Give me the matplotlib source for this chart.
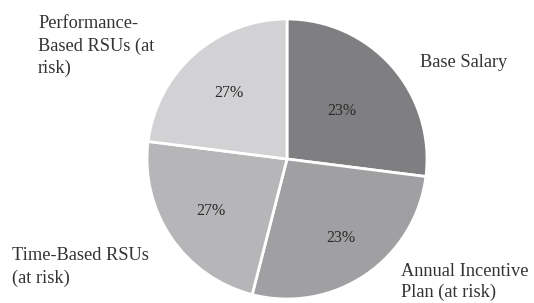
import numpy as np
import matplotlib
matplotlib.use("Agg")
import matplotlib.pyplot as plt

# Datos del gráfico
categorias = ["Base Salary", "Annual Incentive\nPlan (at risk)",
              "Time-Based RSUs\n(at risk)", "Performance-\nBased RSUs (at\nrisk)"]
tamanos = [27, 27, 23, 23]           # tamaño de cada porción
etiquetas_pct = ["23%", "23%", "27%", "27%"]  # texto que aparece en cada porción
colores = ["#7f7f81", "#a0a0a2", "#b6b6b8", "#d2d2d4"]

plt.rcParams['font.family'] = ['Liberation Serif', 'DejaVu Serif']

W, H = 534, 303
fig = plt.figure(figsize=(W / 100, H / 100), dpi=100)
ax = fig.add_axes([0, 0, 1, 1])

R = 140.0   # radio en pixeles
cx, cy = 287.0, 159.0  # centro (pixeles desde arriba)

wedges, _ = ax.pie(tamanos, colors=colores, startangle=90, counterclock=False,
                   radius=1, wedgeprops=dict(edgecolor="white", linewidth=2))

ax.set_xlim(-cx / R, (W - cx) / R)
ax.set_ylim(-(H - cy) / R, cy / R)
ax.set_aspect('auto')
ax.axis('off')

# Porcentajes dentro de cada porción
dist_pct = [0.52, 0.68, 0.66, 0.63]
for w, txt, d in zip(wedges, etiquetas_pct, dist_pct):
    ang = np.deg2rad((w.theta1 + w.theta2) / 2)
    ax.text(d * np.cos(ang), d * np.sin(ang), txt, ha='center', va='center',
            fontsize=11.5, color="#2a2a2a")

# Etiquetas externas (posiciones en pixeles, esquina superior izquierda)
pos_etq = [(420, 54), (401, 263), (12, 247), (38, 15)]
esp_lineas = [1.4, 1.3, 1.4, 1.4]
for txt, (px, py), ls in zip(categorias, pos_etq, esp_lineas):
    ax.text((px - cx) / R, (cy - py) / R, txt, ha='left', va='top',
            fontsize=13.2, color="#333333", linespacing=ls)

fig.savefig("out.png", dpi=100, facecolor="white")
